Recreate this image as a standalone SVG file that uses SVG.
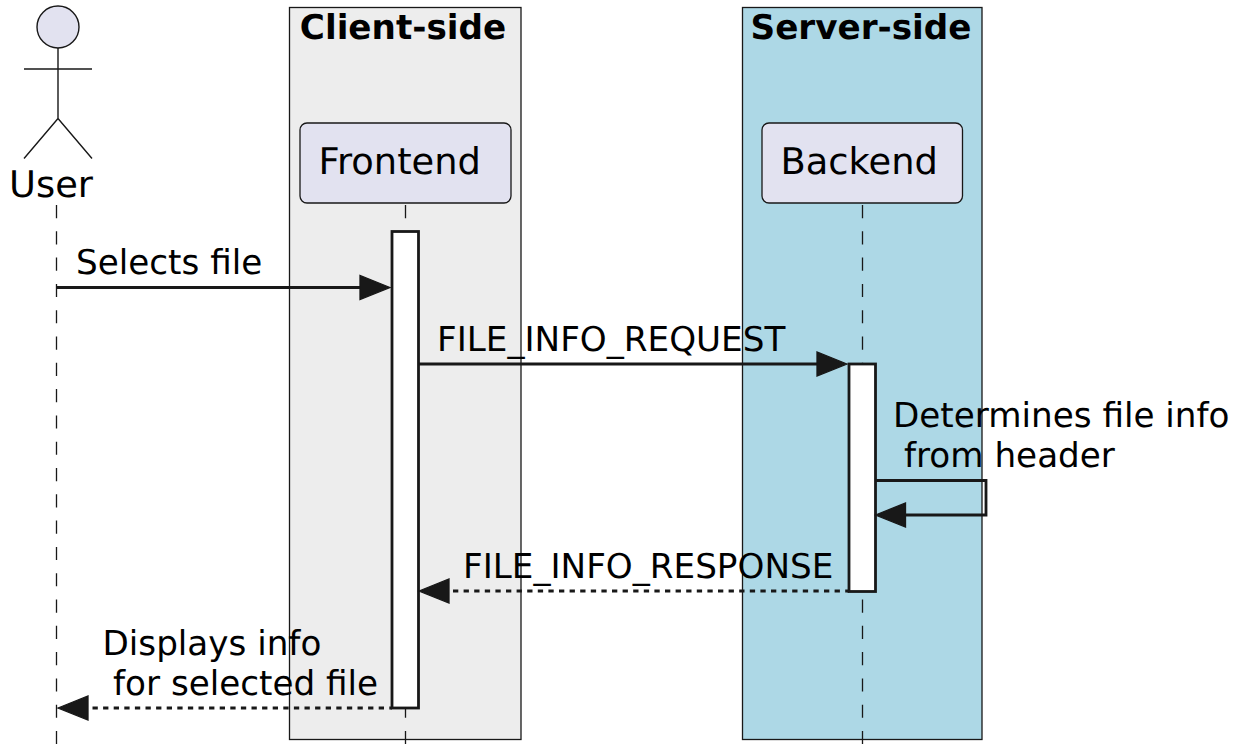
<svg xmlns="http://www.w3.org/2000/svg" width="1244" height="744" viewBox="0 0 1244 744">
<style>
text{font-family:"DejaVu Sans",sans-serif;font-size:34.2px;fill:#000;text-rendering:geometricPrecision}
.b{font-weight:bold}
.p{font-size:36.8px}
.box{stroke:#181818;stroke-width:1.3}
.part{fill:#E2E2F0;stroke:#181818;stroke-width:1.3}
.life{fill:none;stroke:#181818;stroke-width:1.3;stroke-dasharray:13.15 13.15}
.act{fill:#fff;stroke:#181818;stroke-width:2.8}
.msg{fill:none;stroke:#181818;stroke-width:2.8}
.dash{stroke-dasharray:5.3 5.3}
.head{fill:#181818;stroke:#181818;stroke-width:1.3}
.actor{fill:none;stroke:#181818;stroke-width:1.4}
</style>
<g id="box-client"><rect class="box" x="289.500" y="7.500" width="231.500" height="732" fill="#EDEDED"/><text class="b" x="403" y="39" text-anchor="middle">Client-side</text></g>
<g id="box-server"><rect class="box" x="742.500" y="7.500" width="239.500" height="732" fill="#ADD8E6"/><text class="b" x="861" y="39" text-anchor="middle">Server-side</text></g>
<g id="lifelines">
<path class="life" d="M56.500 205V744"/><path class="life" d="M405.500 205V744"/><path class="life" d="M862.500 205V744"/>
</g>
<g id="user"><circle cx="58" cy="27" r="21" fill="#E2E2F0" stroke="#181818" stroke-width="1.400"/><path class="actor" d="M58 48V118.500M24 69H92M58 118.500L24 158.500M58 118.500L92 158.500"/><text class="p" x="51" y="197" text-anchor="middle">User</text></g>
<g id="frontend"><rect class="part" x="300" y="123" width="211" height="80" rx="7"/><text class="p" x="318.500" y="174">Frontend</text></g>
<g id="backend"><rect class="part" x="762" y="123" width="200.500" height="80" rx="7"/><text class="p" x="780.500" y="174">Backend</text></g>
<g id="activation-frontend"><rect class="act" x="392" y="231.500" width="26.500" height="476.500"/></g>
<g id="activation-backend"><rect class="act" x="849" y="364" width="26.500" height="227.500"/></g>
<g id="connectors">
<path class="msg" d="M57 287.500H362"/><path class="head" d="M390 287.500L360 275.500V299.500Z"/>
<path class="msg" d="M418.500 364H819"/><path class="head" d="M847 364L817 352V376Z"/>
<path class="msg" d="M875.500 480.500H986V515H904"/><path class="head" d="M875.500 515L905.500 503V527Z"/>
<path class="msg dash" d="M453 591H849"/><path class="head" d="M419 591L449 579V603Z"/>
<path class="msg dash" d="M92.500 708H392"/><path class="head" d="M58 708L88 696V720Z"/>
</g>
<g id="labels">
<text x="76" y="274">Selects file</text>
<text x="437" y="351">FILE_INFO_REQUEST</text>
<text x="893" y="427">Determines file info</text>
<text x="904" y="467">from header</text>
<text x="463" y="578">FILE_INFO_RESPONSE</text>
<text x="102.500" y="655">Displays info</text>
<text x="113" y="695">for selected file</text>
</g>
</svg>
